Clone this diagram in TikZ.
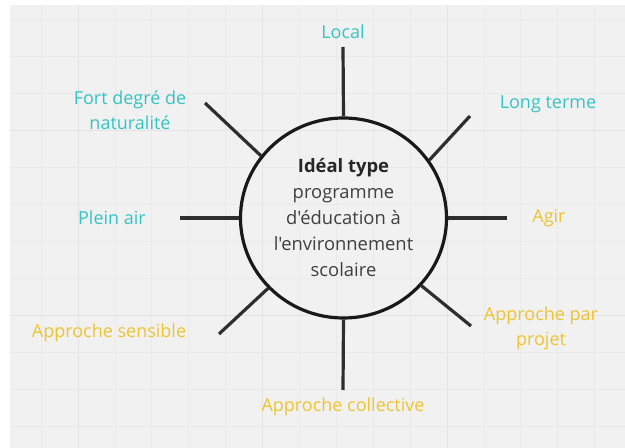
\documentclass[tikz,border=0pt]{standalone}
\usepackage{fontspec}
\setmainfont{Open Sans}[Ligatures=TeXOff]
\usetikzlibrary{shapes.geometric}
\definecolor{bg}{HTML}{F1F1F1}
\definecolor{gridminor}{HTML}{EAEAEA}
\definecolor{gridmajor}{HTML}{E3E3E3}
\definecolor{cyanlbl}{RGB}{52,196,196}
\definecolor{yellowlbl}{RGB}{238,196,48}
\definecolor{centertxt}{HTML}{3F3F3F}
\definecolor{linecol}{HTML}{2E2E2E}
\begin{document}
\begin{tikzpicture}[x=0.75pt,y=-0.75pt,
  lbl/.style={font=\fontsize{13.5}{19}\selectfont, align=center, inner sep=0pt},
  cyanl/.style={lbl, text=cyanlbl},
  yell/.style={lbl, text=yellowlbl},
  spoke/.style={draw=linecol, line width=2.4pt},
  hub/.style={ellipse, draw=black!90, line width=2.4pt, minimum width=206*0.75pt, minimum height=200*0.75pt, inner sep=0pt, align=center, text=centertxt, font=\fontsize{13.8}{19.5}\selectfont}
]
\useasboundingbox (0,0) rectangle (625,448);
\fill[white] (0,0) rectangle (625,448);
\fill[bg] (10,5) rectangle (625,448);
\begin{scope}
\clip (10,5) rectangle (625,448);
\foreach \i in {-1,...,15} {
  \pgfmathtruncatemacro{\m}{mod(\i+100,5)}
  \ifnum\m=0
    \draw[gridmajor, line width=0.6pt] ({78+36.9*\i},5) -- ({78+36.9*\i},448);
  \else
    \draw[gridminor, line width=0.5pt] ({78+36.9*\i},5) -- ({78+36.9*\i},448);
  \fi
}
\foreach \j in {-3,...,9} {
  \pgfmathtruncatemacro{\m}{mod(\j+100,5)}
  \ifnum\m=0
    \draw[gridmajor, line width=0.6pt] (10,{130+37*\j}) -- (625,{130+37*\j});
  \else
    \draw[gridminor, line width=0.5pt] (10,{130+37*\j}) -- (625,{130+37*\j});
  \fi
}
\end{scope}

\node[hub] (c) at (343.5,218) {\textbf{\color{black!85}Idéal type}\\programme\\d'éducation à\\l'environnement\\scolaire};

\coordinate (t) at (343,47);
\coordinate (b) at (343,390);
\coordinate (l) at (180,218);
\coordinate (r) at (507,218);
\coordinate (ul) at (205,103);
\coordinate (ur) at (470,116);
\coordinate (ll) at (219,334);
\coordinate (lr) at (471,326);

\draw[spoke] (t) -- (c.90);
\draw[spoke] (b) -- (c.270);
\draw[spoke] (l) -- (c.180);
\draw[spoke] (r) -- (c.0);
\draw[spoke] (ul) -- (c.143);
\draw[spoke] (ur) -- (c.34);
\draw[spoke] (ll) -- (c.223);
\draw[spoke] (lr) -- (c.319);

\node[cyanl] (nlocal) at (343,32) {Local};
\node[cyanl] (nlong) at (548,104) {Long terme};
\node[cyanl] (nfort) at (130,110) {Fort degré de\\naturalité};
\node[cyanl] (nplein) at (112,218) {Plein air};
\node[yell] (nagir) at (549,218) {Agir};
\node[yell] (nprojet) at (541,328) {Approche par\\projet};
\node[yell] (ncoll) at (343,407) {Approche collective};
\node[yell] (nsens) at (109,333) {Approche sensible};
\end{tikzpicture}
\end{document}
